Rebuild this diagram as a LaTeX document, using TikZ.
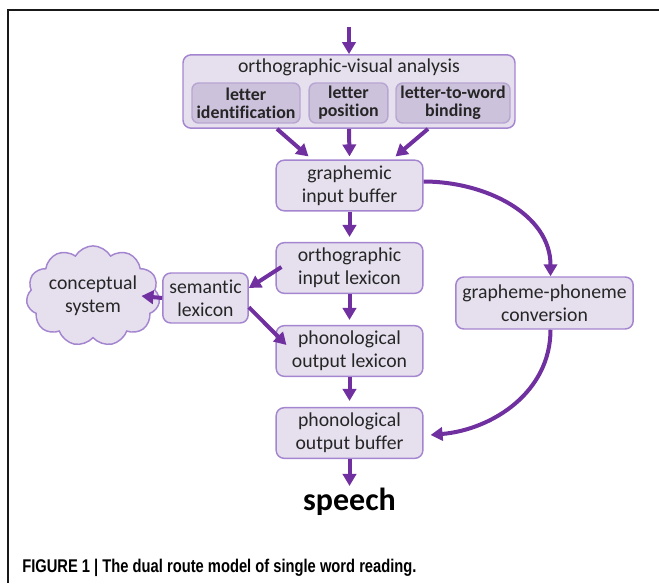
\documentclass[tikz,border=0pt]{standalone}
\usepackage{fontspec}
\setmainfont[Ligatures={NoCommon}]{Carlito}
\newfontfamily\captionfont[FakeStretch=0.8]{Liberation Sans}
\usepackage{tikz}
\usetikzlibrary{arrows.meta,calc,shapes.symbols}
\definecolor{routepurple}{HTML}{7030A0}
\definecolor{boxframe}{HTML}{A485CF}
\definecolor{boxfill}{HTML}{E6E0EE}
\definecolor{subframe}{HTML}{B8A6D2}
\definecolor{subfill}{HTML}{CDC2DC}
\definecolor{textgray}{HTML}{262626}

\begin{document}
\begin{tikzpicture}[
    x=0.75pt, y=0.75pt,
    >={Triangle[length=9pt,width=10pt]},
    every node/.style={text=textgray},
    box/.style={
        rectangle,
        rounded corners=6pt,
        draw=boxframe,
        fill=boxfill,
        line width=1.1pt,
        minimum width=110pt,
        minimum height=38pt,
        inner sep=1pt,
        align=center,
        font=\fontsize{14.8}{17}\selectfont
    },
    subbox/.style={
        rectangle,
        rounded corners=5pt,
        draw=subframe,
        fill=subfill,
        line width=1.1pt,
        minimum height=30pt,
        inner sep=1pt,
        align=center,
        font=\bfseries\fontsize{13.4}{13.5}\selectfont
    },
    arrow/.style={->, routepurple, line width=3pt}
]
    \useasboundingbox (0,0) rectangle (659,583);

    % Frame (top and left rules)
    \draw[line width=1.1pt, black!90] (659,573) -- (8,573) -- (8,0);

    % === ORTHOGRAPHIC-VISUAL ANALYSIS ===
    \coordinate (input) at (349,556);
    \node[box, minimum width=249pt, minimum height=55pt] (ova) at (349,491.5) {};
    \node[font=\fontsize{14.8}{17}\selectfont] (ovatitle) at (349,516) {orthographic-visual analysis};
    \node[subbox, minimum width=81pt] (lid) at (246,480) {letter\\identification};
    \node[subbox, minimum width=59pt] (lpos) at (348.5,480) {letter\\position};
    \node[subbox, minimum width=85.5pt] (lbind) at (453,480) {letter-to-word\\binding};

    % === LEXICAL ROUTE ===
    \node[box] (gib) at (349.5,397.5) {graphemic\\input buffer};
    \node[box] (oil) at (349.5,315) {orthographic\\input lexicon};
    \node[box, minimum width=64pt, minimum height=37.5pt] (sem) at (205.5,285) {semantic\\lexicon};
    \node[cloud, cloud puffs=11, cloud puff arc=120, aspect=1.5, draw=boxframe, fill=boxfill,
          line width=1.1pt, minimum width=90pt, minimum height=63pt, inner sep=0pt, align=center,
          font=\fontsize{14.8}{17}\selectfont] (concept) at (93,287) {conceptual\\system};
    \node[box] (pol) at (349.5,232) {phonological\\output lexicon};
    \node[box] (pob) at (349.5,150) {phonological\\output buffer};

    % === SUBLEXICAL ROUTE ===
    \node[box, minimum width=133pt, minimum height=39pt] (gpc) at (544.5,280) {grapheme-phoneme\\conversion};

    % Output
    \node[anchor=base, inner sep=1pt, font=\bfseries\fontsize{24}{28}\selectfont, text=black] (speech) at (349.5,73) {speech};

    % Arrows
    \draw[arrow] (input) -- (ova.north);
    \draw[arrow] ($(ova.south)+(-72,0)$) -- ($(gib.north)+(-41,3)$);
    \draw[arrow] (ova.south) -- ($(gib.north)+(0,3)$);
    \draw[arrow] ($(ova.south)+(79,0)$) -- ($(gib.north)+(46,3)$);
    \draw[arrow] (gib.south) -- ($(oil.north)+(0,5)$);
    \draw[arrow] ($(oil.west)+(6,1)$) -- (sem.13);
    \draw[arrow] (sem.west) -- ($(concept.east)+(-18,0)$);
    \draw[arrow] (sem.-12) -- ($(pol.west)+(11,6)$);
    \draw[arrow] (oil.south) -- ($(pol.north)+(0,5)$);
    \draw[arrow] (pol.south) -- ($(pob.north)+(0,6)$);
    \draw[arrow] (pob.south) -- (speech.north);
    \draw[arrow] ($(gib.east)+(0,4)$) to[out=0, in=90] ($(gpc.north)+(6,0)$);
    \draw[arrow] ($(gpc.south)+(6,0)$) to[out=-90, in=5] ($(pob.east)+(7,-2)$);

    % Caption
    \node[anchor=base west, inner sep=0pt, font=\captionfont\bfseries\fontsize{13.8}{16}\selectfont, text=black] (caption) at (22,11)
        {FIGURE 1 | The dual route model of single word reading.};
\end{tikzpicture}
\end{document}
